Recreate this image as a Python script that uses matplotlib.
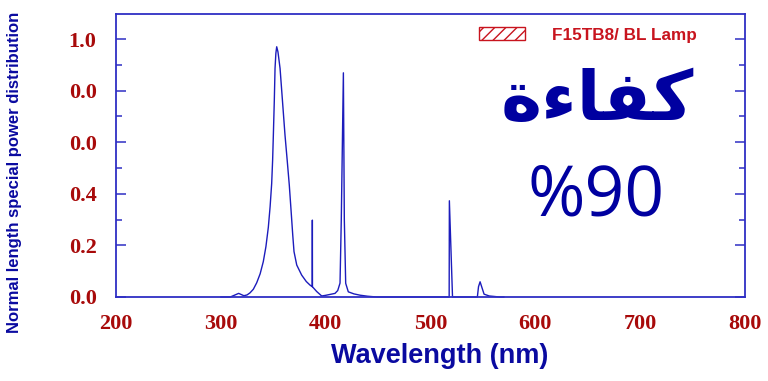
import matplotlib
matplotlib.use("Agg")
import matplotlib.pyplot as plt
from matplotlib.patches import Patch

# spectrum (wavelength in nm, normalised intensity)
wavelength = [300.0, 309.0, 313.0, 317.0, 322.0, 325.0, 327.8, 331.0, 334.2, 337.5,
              340.5, 343.0, 345.3, 347.0, 348.5, 349.4, 350.1, 351.0, 351.7, 352.5,
              353.3, 354.5, 356.5, 358.8, 361.2, 363.3, 365.3, 367.0, 368.6, 369.8,
              372.4, 377.1, 381.5, 385.1, 387.2, 387.3, 387.4, 388.2, 391.5, 396.2,
              399.4, 404.2, 408.9, 411.5, 413.7, 414.9, 416.9, 417.8, 419.1, 421.6,
              427.0, 432.8, 440.0, 448.7, 517.8, 518.0, 521.0, 544.7, 545.8, 547.3,
              548.8, 551.1, 556.0, 566.0, 570.0]
intensity = [0.000, 0.000, 0.007, 0.014, 0.005, 0.008, 0.016, 0.030, 0.055, 0.090,
             0.137, 0.195, 0.270, 0.350, 0.440, 0.530, 0.628, 0.760, 0.886, 0.945,
             0.970, 0.950, 0.886, 0.760, 0.628, 0.530, 0.434, 0.335, 0.240, 0.176,
             0.124, 0.085, 0.060, 0.046, 0.040, 0.298, 0.040, 0.036, 0.021, 0.004,
             0.006, 0.010, 0.014, 0.025, 0.054, 0.300, 0.869, 0.300, 0.053, 0.020,
             0.012, 0.007, 0.003, 0.000, 0.000, 0.373, 0.000, 0.000, 0.040, 0.059,
             0.040, 0.011, 0.004, 0.000, 0.000]

y_ticks = [0.0, 0.2, 0.4, 0.6, 0.8, 1.0]
y_tick_labels = ["0.0", "0.2", "0.4", "0.0", "0.0", "1.0"]
y_minor = [0.3, 0.5, 0.7, 0.9]
x_ticks = [200, 300, 400, 500, 600, 700, 800]

legend_label = "F15TB8/ BL Lamp"
# Arabic "كفاءة" in presentation forms, visual order (matplotlib does no shaping)
arabic_word = "\uFE93\uFE80\uFE8E\uFED4\uFEDB"
percent_text = "%90"

line_blue = "#1c1cbc"
axis_blue = "#2f2fc4"
label_blue = "#0a0aa0"
tick_red = "#a80a0a"
legend_red = "#c8141e"

fig = plt.figure(figsize=(7.68, 3.81), dpi=100)
ax = fig.add_axes([116 / 768, 1 - 297 / 381, 629 / 768, 283 / 381])

ax.plot(wavelength, intensity, color=line_blue, linewidth=1.0, clip_on=False)

ax.set_xlim(200, 800)
ax.set_ylim(0, 1.097)

for sp in ax.spines.values():
    sp.set_color(axis_blue)
    sp.set_linewidth(1.3)

ax.set_yticks(y_ticks)
ax.set_yticklabels(y_tick_labels)
ax.set_yticks(y_minor, minor=True)
ax.set_xticks(x_ticks)
ax.tick_params(axis="y", which="major", direction="in", length=7, width=1.1,
               color=axis_blue, right=True, pad=14)
ax.tick_params(axis="y", which="minor", direction="in", length=4, width=1.1,
               color=axis_blue, right=True)
ax.tick_params(axis="x", length=0, pad=12)
for lab in ax.get_xticklabels() + ax.get_yticklabels():
    lab.set_family("Liberation Serif")
    lab.set_fontweight("bold")
    lab.set_fontsize(16)
    lab.set_color(tick_red)

ax.set_xlabel("Wavelength (nm)", family="Liberation Sans", fontweight="bold",
              fontsize=19.5, color=label_blue)
ax.xaxis.set_label_coords(0.514, -0.1625)
ax.set_ylabel("Normal length special power distribution", family="Liberation Sans",
              fontweight="bold", fontsize=12, color=label_blue)
ax.yaxis.set_label_coords(-0.149, 0.44)

handle = Patch(facecolor="white", edgecolor=legend_red, hatch="///-", linewidth=1.0)
ax.legend([handle], [legend_label], loc="center left",
          bbox_to_anchor=((479 - 116) / 629, (297 - 35) / 283),
          frameon=False, borderpad=0, borderaxespad=0, handlelength=2.7,
          handleheight=0.8, handletextpad=1.55,
          prop={"family": "Liberation Sans", "weight": "bold", "size": 12.3},
          labelcolor=legend_red)

ax.text((597 - 116) / 629, (297 - 101) / 283, arabic_word, transform=ax.transAxes,
        ha="center", va="center", family=["DejaVu Sans"], fontweight="bold",
        fontsize=50, color="#0000a0")
ax.text((596 - 116) / 629, (297 - 198) / 283, percent_text, transform=ax.transAxes,
        ha="center", va="center", family=["Open Sans", "DejaVu Sans"],
        fontsize=50, color="#0000a0")

fig.savefig("out.png", dpi=100)
